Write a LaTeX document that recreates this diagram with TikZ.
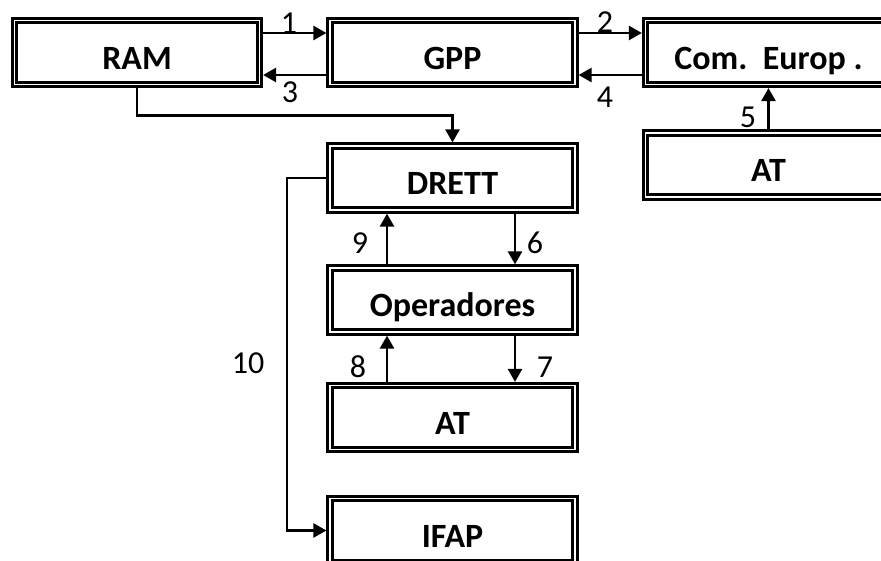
\documentclass[tikz,border=0pt]{standalone}
\usepackage{fontspec}
\setmainfont{Carlito}
\usetikzlibrary{arrows.meta}
\begin{document}
\begin{tikzpicture}[x=1pt,y=-1pt,
  box/.style={draw, line width=2.8pt, double, double distance=1.6pt,
    inner sep=0pt, outer sep=3.6pt, minimum width=245pt, minimum height=64pt,
    text height=34pt, text depth=0pt,
    font=\fontsize{34}{38}\selectfont\bfseries},
  num/.style={inner sep=0pt, font=\fontsize{32}{34}\selectfont},
  conn/.style={line width=2.6pt, -{Triangle[length=13pt,width=14pt]}}]
\clip (0,0) rectangle (881,561);
\fill[white] (0,0) rectangle (881,561);
\node[box] (RAM) at (137,52.5) {RAM};
\node[box] (GPP) at (452.5,52.5) {GPP};
\node[box, minimum width=246pt] (COM) at (768.5,52.5) {Com.\ \ Europ\ .};
\node[box, minimum width=246pt] (AT1) at (768.5,165) {AT};
\node[box] (DRETT) at (452.5,178) {DRETT};
\node[box] (OP) at (452.5,300) {Operadores};
\node[box] (AT2) at (452.5,417.5) {AT};
\node[box] (IFAP) at (452.5,530.5) {IFAP};
% connectors
\draw[conn] ([yshift=19.5pt]RAM.east) -- ([yshift=19.5pt]GPP.west);
\draw[conn] ([yshift=-22.5pt]GPP.west) -- ([yshift=-22.5pt]RAM.east);
\draw[conn] ([yshift=19.5pt]GPP.east) -- ([yshift=19.5pt]COM.west);
\draw[conn] ([yshift=-22.5pt]COM.west) -- ([yshift=-22.5pt]GPP.east);
\draw[conn] (AT1.north) -- (COM.south);
\draw[conn] (RAM.south) |- ([yshift=27pt]DRETT.north) -- (DRETT.north);
\draw[conn] ([xshift=62.5pt]DRETT.south) -- ([xshift=62.5pt]OP.north);
\draw[conn] ([xshift=-65.5pt]OP.north) -- ([xshift=-65.5pt]DRETT.south);
\draw[conn] ([xshift=62.5pt]OP.south) -- ([xshift=62.5pt]AT2.north);
\draw[conn] ([xshift=-65.5pt]AT2.north) -- ([xshift=-65.5pt]OP.south);
\coordinate (c10) at (287,178);
\draw[conn] (DRETT.west) -- (c10) |- (IFAP.west);
% labels
\node[num] (n1) at (289,23) {1};
\node[num] (n3) at (290,92.5) {3};
\node[num] (n2) at (605,22) {2};
\node[num] (n4) at (605,97) {4};
\node[num] (n5) at (748,117) {5};
\node[num] (n9) at (360,243) {9};
\node[num] (n6) at (535,243) {6};
\node[num] (n8) at (358,367) {8};
\node[num] (n7) at (545,367) {7};
\node[num] (n10) at (248,363) {10};
\end{tikzpicture}
\end{document}
